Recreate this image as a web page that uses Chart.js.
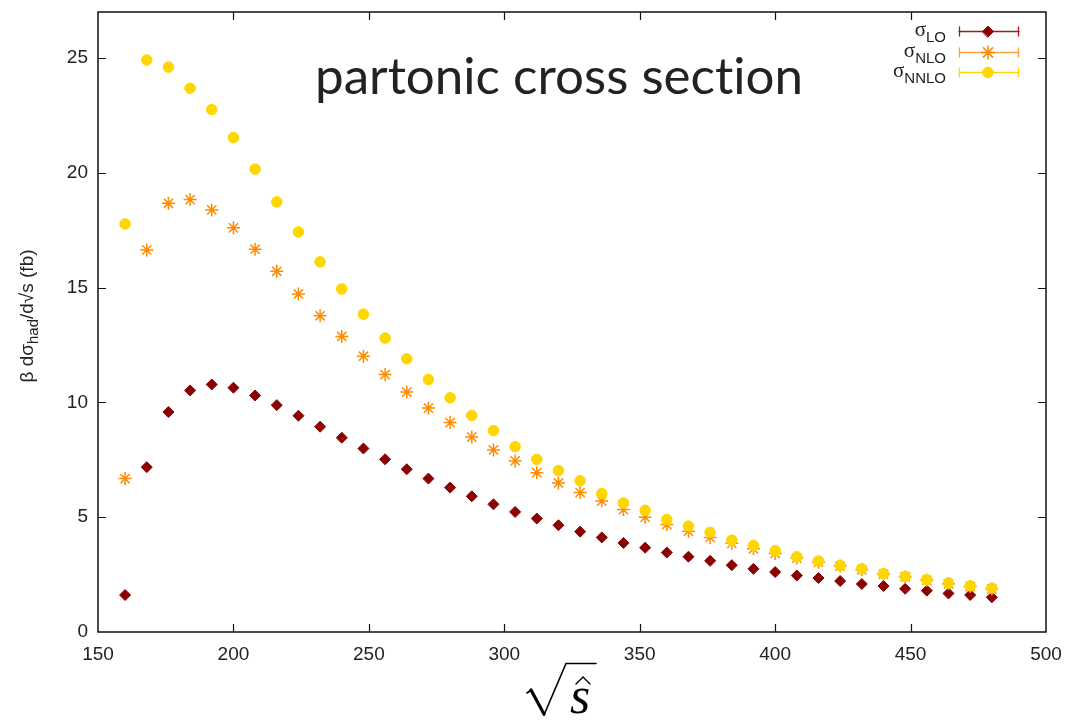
<!DOCTYPE html>
<html>
<head>
<meta charset="utf-8">
<script src="https://cdn.jsdelivr.net/npm/chart.js@4.4.1/dist/chart.umd.min.js"></script>
<style>
  html, body { margin: 0; padding: 0; background: #fff; }
  #wrap { width: 1066px; height: 720px; position: relative; }
</style>
</head>
<body>
<div id="wrap"><canvas id="xsecChart" width="1066" height="720"></canvas></div>
<script>
// sqrt(s-hat) sample points (GeV)
const sqrtS = [160, 168, 176, 184, 192, 200, 208, 216, 224, 232, 240, 248, 256, 264,
  272, 280, 288, 296, 304, 312, 320, 328, 336, 344, 352, 360, 368, 376, 384, 392,
  400, 408, 416, 424, 432, 440, 448, 456, 464, 472, 480];

const sigmaLO = [1.61, 7.18, 9.58, 10.52, 10.78, 10.64, 10.30, 9.88, 9.42, 8.94, 8.46,
  7.99, 7.52, 7.09, 6.68, 6.29, 5.91, 5.56, 5.23, 4.94, 4.65, 4.37, 4.12, 3.88, 3.67,
  3.46, 3.28, 3.10, 2.91, 2.75, 2.61, 2.46, 2.35, 2.22, 2.09, 2.00, 1.88, 1.80, 1.68,
  1.61, 1.51];

const sigmaNLO = [6.68, 16.64, 18.67, 18.83, 18.38, 17.60, 16.67, 15.71, 14.72, 13.77,
  12.87, 12.01, 11.21, 10.45, 9.75, 9.12, 8.49, 7.93, 7.45, 6.94, 6.49, 6.07, 5.70,
  5.33, 5.00, 4.68, 4.39, 4.12, 3.86, 3.62, 3.42, 3.22, 3.04, 2.87, 2.71, 2.52, 2.40,
  2.25, 2.10, 1.98, 1.87];

const sigmaNNLO = [17.77, 24.91, 24.60, 23.68, 22.75, 21.53, 20.16, 18.73, 17.42, 16.12,
  14.94, 13.84, 12.80, 11.90, 11.00, 10.20, 9.43, 8.77, 8.07, 7.52, 7.03, 6.59, 6.03,
  5.62, 5.30, 4.90, 4.61, 4.34, 4.00, 3.77, 3.54, 3.28, 3.09, 2.90, 2.75, 2.54, 2.42,
  2.28, 2.14, 2.01, 1.91];

const xTicks = [150, 200, 250, 300, 350, 400, 450, 500];
const yTicks = [0, 5, 10, 15, 20, 25];

const inkText = "#222";
const tickFont = { family: "'Liberation Sans', Arial, sans-serif", size: 19 };

const toPoints = (vals) => vals.map((v, i) => ({ x: sqrtS[i], y: v }));

// --- FRAME, INWARD TICKS, TITLE, AXIS LABELS, LEGEND ---
const decorPlugin = {
  id: "decor",
  afterDraw(chart) {
    const { ctx, chartArea: a, scales } = chart;
    ctx.save();

    // gnuplot style closed frame
    ctx.strokeStyle = "#111";
    ctx.lineWidth = 1.5;
    ctx.strokeRect(a.left, a.top, a.right - a.left, a.bottom - a.top);

    ctx.lineWidth = 1.2;
    ctx.beginPath();
    xTicks.slice(1, -1).forEach((v) => {
      const px = Math.round(scales.x.getPixelForValue(v)) + 0.5;
      ctx.moveTo(px, a.bottom); ctx.lineTo(px, a.bottom - 8);
      ctx.moveTo(px, a.top); ctx.lineTo(px, a.top + 8);
    });
    yTicks.slice(1).forEach((v) => {
      const py = Math.round(scales.y.getPixelForValue(v)) + 0.5;
      ctx.moveTo(a.left, py); ctx.lineTo(a.left + 8, py);
      ctx.moveTo(a.right, py); ctx.lineTo(a.right - 8, py);
    });
    ctx.stroke();

    // title (ZWNJ keeps "t" and "i" apart, as in the original)
    ctx.fillStyle = inkText;
    ctx.textAlign = "center";
    ctx.textBaseline = "alphabetic";
    const title = "partonic cross sec\u200Ct\u200Cion";
    let size = 44;
    ctx.font = `${size}px Lato, 'Open Sans', sans-serif`;
    const w = ctx.measureText(title).width;
    size = size * 488 / w;
    ctx.font = `${size}px Lato, 'Open Sans', sans-serif`;
    ctx.fillText(title, 559, 94);

    // y axis title: β dσ_had/d√s (fb)
    ctx.save();
    ctx.translate(33, 316);
    ctx.rotate(-Math.PI / 2);
    ctx.textBaseline = "alphabetic";
    ctx.textAlign = "left";
    const mainFont = "19px 'Liberation Sans', Arial, sans-serif";
    const subFont = "15px 'Liberation Sans', Arial, sans-serif";
    const parts = [
      { t: "β dσ", f: mainFont, dy: 0 },
      { t: "had", f: subFont, dy: 5 },
      { t: "/d√s (fb)", f: mainFont, dy: 0 },
    ];
    let total = 0;
    parts.forEach((p) => { ctx.font = p.f; p.w = ctx.measureText(p.t).width; total += p.w; });
    let cx = -total / 2;
    parts.forEach((p) => {
      ctx.font = p.f;
      ctx.fillText(p.t, cx, p.dy);
      cx += p.w;
    });
    ctx.restore();

    // x axis title: sqrt(s-hat)
    ctx.strokeStyle = "#000";
    ctx.lineCap = "round";
    ctx.lineJoin = "miter";
    ctx.lineWidth = 1.6;
    ctx.beginPath();
    ctx.moveTo(527, 693);
    ctx.lineTo(531, 690);
    ctx.stroke();
    ctx.lineWidth = 3.2;
    ctx.beginPath();
    ctx.moveTo(531, 690);
    ctx.lineTo(544, 714);
    ctx.stroke();
    ctx.lineWidth = 1.6;
    ctx.beginPath();
    ctx.moveTo(544, 715);
    ctx.lineTo(566, 663.5);
    ctx.lineTo(596, 663.5);
    ctx.stroke();
    ctx.fillStyle = "#000";
    ctx.font = "italic 52px 'Liberation Serif', 'DejaVu Serif', serif";
    ctx.textAlign = "left";
    ctx.textBaseline = "alphabetic";
    ctx.fillText("s", 570, 713);
    ctx.lineWidth = 1.4;
    ctx.beginPath();
    ctx.moveTo(576, 684);
    ctx.lineTo(583, 677);
    ctx.lineTo(590, 684);
    ctx.stroke();

    // legend with error-bar samples
    const rows = [
      { sub: "LO", y: 31, line: "#a31a1a", ds: 0 },
      { sub: "NLO", y: 52, line: "#ffa040", ds: 1 },
      { sub: "NNLO", y: 72, line: "#ffd700", ds: 2 },
    ];
    rows.forEach((r) => {
      ctx.font = "15px 'Liberation Sans', Arial, sans-serif";
      const subW = ctx.measureText(r.sub).width;
      ctx.textAlign = "right";
      ctx.fillStyle = inkText;
      ctx.fillText(r.sub, 946, r.y + 11);
      ctx.font = "21px 'Liberation Serif', 'DejaVu Serif', serif";
      ctx.fillText("σ", 946 - subW, r.y + 5);

      ctx.strokeStyle = r.line;
      ctx.lineWidth = 1.3;
      ctx.beginPath();
      ctx.moveTo(959, r.y + 0.5); ctx.lineTo(1019, r.y + 0.5);
      ctx.moveTo(959.5, r.y - 4); ctx.lineTo(959.5, r.y + 5);
      ctx.moveTo(1018.5, r.y - 4); ctx.lineTo(1018.5, r.y + 5);
      ctx.stroke();

      const dsOpt = chart.data.datasets[r.ds];
      ctx.fillStyle = dsOpt.backgroundColor;
      ctx.strokeStyle = dsOpt.borderColor;
      ctx.lineWidth = dsOpt.borderWidth;
      Chart.helpers.drawPoint(ctx, {
        pointStyle: dsOpt.pointStyle,
        radius: dsOpt.pointRadius,
        borderWidth: dsOpt.borderWidth,
        rotation: 0,
      }, 988, r.y + 0.5);
    });

    ctx.restore();
  },
};

const ctx = document.getElementById("xsecChart");

new Chart(ctx, {
  type: "scatter",
  data: {
    datasets: [
      {
        label: "σLO",
        data: toPoints(sigmaLO),
        pointStyle: "rectRot",
        pointRadius: 5.5,
        backgroundColor: "#8b0000",
        borderColor: "#8b0000",
        borderWidth: 1,
        order: 3,
      },
      {
        label: "σNLO",
        data: toPoints(sigmaNLO),
        pointStyle: "star",
        pointRadius: 6.5,
        backgroundColor: "#ff8c00",
        borderColor: "#ff8c00",
        borderWidth: 1.5,
        order: 2,
      },
      {
        label: "σNNLO",
        data: toPoints(sigmaNNLO),
        pointStyle: "circle",
        pointRadius: 5.3,
        backgroundColor: "#ffd700",
        borderColor: "#ffd700",
        borderWidth: 1,
        order: 1,
      },
    ],
  },
  options: {
    responsive: false,
    animation: false,
    layout: { padding: { left: 0, top: 12, right: 20, bottom: 0 } },
    plugins: {
      legend: { display: false },
      tooltip: { enabled: false },
    },
    scales: {
      x: {
        type: "linear",
        min: 150,
        max: 500,
        grid: { display: false, drawTicks: false },
        border: { display: false },
        ticks: { stepSize: 50, color: inkText, font: tickFont, padding: 11, maxRotation: 0 },
        afterBuildTicks: (s) => { s.ticks = xTicks.map((v) => ({ value: v })); },
        afterFit: (s) => {
          s.height = 88;
          s.paddingLeft = 0; s.paddingRight = 0;
        },
      },
      y: {
        type: "linear",
        min: 0,
        max: 27,
        grid: { display: false, drawTicks: false },
        border: { display: false },
        ticks: { stepSize: 5, color: inkText, font: tickFont, padding: 10 },
        afterBuildTicks: (s) => { s.ticks = yTicks.map((v) => ({ value: v })); },
        afterFit: (s) => {
          s.width = 98;
          s.paddingTop = 0; s.paddingBottom = 0;
        },
      },
    },
  },
  plugins: [decorPlugin],
});
</script>
</body>
</html>
